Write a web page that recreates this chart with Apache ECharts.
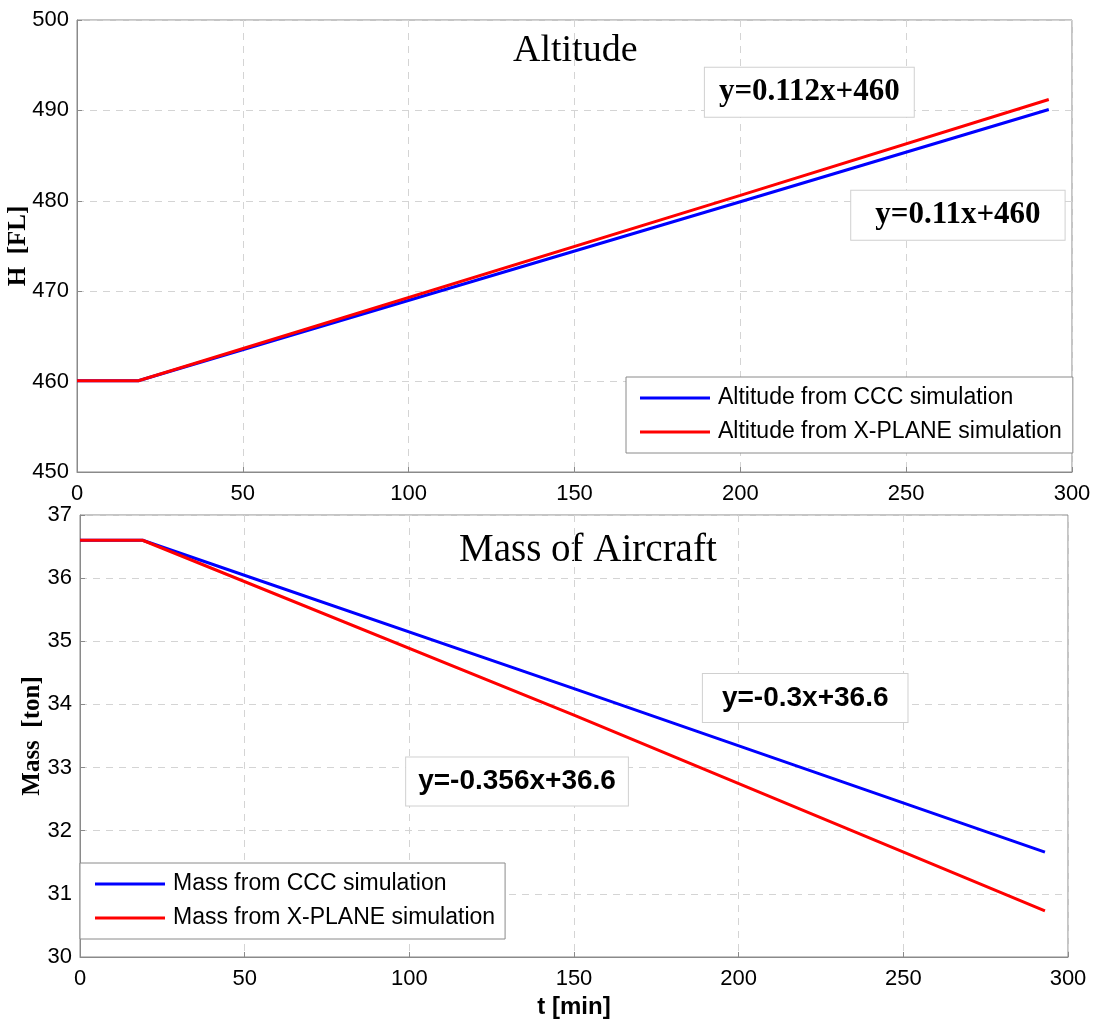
<!DOCTYPE html>
<html>
<head>
<meta charset="utf-8">
<script src="https://cdn.jsdelivr.net/npm/echarts@6/dist/echarts.min.js"></script>
<style>
  html, body { margin: 0; padding: 0; background: #fff; }
  #chart { width: 1097px; height: 1021px; }
</style>
</head>
<body>
<div id="chart"></div>
<script>
// Flight time [min]
const altitudeTime = [0, 18.5, 200, 293];
const massTime = [0, 19, 150, 293];

// Altitude [FL]
const altitudeCCC = [460.1, 460.1, 479.9, 490.1];
const altitudeXPlane = [460.1, 460.1, 480.6, 491.2];

// Aircraft mass [ton]
const massCCC = [36.6, 36.6, 34.25, 31.66];
const massXPlane = [36.6, 36.6, 33.83, 30.73];

// Axis ticks
const timeTicks = [0, 50, 100, 150, 200, 250, 300];
const altitudeTicks = [450, 460, 470, 480, 490, 500];
const massTicks = [30, 31, 32, 33, 34, 35, 36, 37];

// Series names and fitted-line equations
const altitudeNames = ['Altitude from CCC simulation', 'Altitude from X-PLANE simulation'];
const massNames = ['Mass from CCC simulation', 'Mass from X-PLANE simulation'];
const altitudeFits = ['y=0.112x+460', 'y=0.11x+460'];
const massFits = ['y=-0.3x+36.6', 'y=-0.356x+36.6'];

const SANS = 'Liberation Sans, Arial, sans-serif';
const SERIF = 'Liberation Serif, Times New Roman, serif';
const BLUE = '#0000ff';
const RED = '#ff0000';
const FRAME = '#8a8a8a';
const GRIDLINE = { color: '#d4d4d4', type: [7, 6], width: 1 };

// where each equation box sits, in axis units, plus its padding
const altitudeFitAnchors = [[220.8, 492.0, [9, 14]], [265.6, 478.4, [9, 24]]];
const massFitAnchors = [[220.2, 34.1, [10, 19]], [132.7, 32.78, [10, 12]]];

const pair = (xs, ys) => xs.map((x, i) => [x, ys[i]]);
const first = a => a[0];
const last = a => a[a.length - 1];

function xAxisFor(gridIndex, withName) {
  return {
    type: 'value', gridIndex,
    min: first(timeTicks), max: last(timeTicks), interval: timeTicks[1] - timeTicks[0],
    name: withName ? 't [min]' : '',
    nameLocation: 'middle', nameGap: 38, nameMoveOverlap: false,
    nameTextStyle: { fontFamily: SANS, fontWeight: 'bold', fontSize: 24, color: '#000' },
    axisLine: { show: true, onZero: false, lineStyle: { color: FRAME, width: 1 } },
    axisTick: { show: true, inside: true, length: 5, lineStyle: { color: FRAME } },
    axisLabel: { color: '#000', fontFamily: SANS, fontSize: 22, margin: 11 },
    splitLine: { show: true, lineStyle: GRIDLINE }
  };
}

function yAxisFor(gridIndex, ticks, name, gap) {
  return {
    type: 'value', gridIndex,
    min: first(ticks), max: last(ticks), interval: ticks[1] - ticks[0],
    name, nameLocation: 'middle', nameGap: gap, nameRotate: 90, nameMoveOverlap: false,
    nameTextStyle: { fontFamily: SERIF, fontWeight: 'bold', fontSize: 25, color: '#000' },
    axisLine: { show: true, lineStyle: { color: FRAME, width: 1 } },
    axisTick: { show: true, inside: true, length: 5, lineStyle: { color: FRAME } },
    axisLabel: { color: '#000', fontFamily: SANS, fontSize: 22, margin: 8 },
    splitLine: { show: true, lineStyle: GRIDLINE }
  };
}

function lineSeries(name, idx, xs, ys, color) {
  return {
    type: 'line', name, xAxisIndex: idx, yAxisIndex: idx,
    data: pair(xs, ys), symbol: 'none', showSymbol: false, animation: false,
    lineStyle: { color, width: 3 }, itemStyle: { color }
  };
}

function fitSeries(idx, texts, anchors, fontFamily, fontSize) {
  return {
    type: 'scatter', xAxisIndex: idx, yAxisIndex: idx,
    symbolSize: 0, silent: true, animation: false, z: 5,
    itemStyle: { opacity: 1 },
    data: texts.map((t, i) => ({
      value: [anchors[i][0], anchors[i][1]],
      label: { padding: anchors[i][2] },
      fitText: t
    })),
    label: {
      show: true, position: 'inside',
      formatter: p => p.data.fitText,
      fontFamily, fontSize, fontWeight: 'bold', color: '#000',
      textBorderWidth: 0, textBorderColor: 'transparent',
      backgroundColor: '#fff', borderColor: '#d0d0d0', borderWidth: 1
    }
  };
}

function legendFor(names, left, top, padding) {
  return {
    data: names, orient: 'vertical', left, top,
    icon: 'rect', itemWidth: 70, itemHeight: 3,
    backgroundColor: '#fff', borderColor: '#8a8a8a', borderWidth: 1,
    padding, itemGap: 10, selectedMode: false,
    textStyle: { fontFamily: SANS, fontSize: 23, color: '#000', lineHeight: 24, padding: [0, 0, 0, 3] }
  };
}

const chart = echarts.init(document.getElementById('chart'), null, { renderer: 'canvas' });

chart.setOption({
  backgroundColor: '#fff',
  animation: false,
  grid: [
    { left: 77, top: 20, width: 995, height: 452, show: true, borderColor: FRAME, borderWidth: 1,
      backgroundColor: '#fff', outerBoundsMode: 'none' },
    { left: 80, top: 515, width: 988, height: 442, show: true, borderColor: FRAME, borderWidth: 1,
      backgroundColor: '#fff', outerBoundsMode: 'none' }
  ],
  xAxis: [xAxisFor(0, false), xAxisFor(1, true)],
  yAxis: [
    yAxisFor(0, altitudeTicks, 'H  [FL]', 46),
    yAxisFor(1, massTicks, 'Mass  [ton]', 35)
  ],
  legend: [
    legendFor(altitudeNames, 626, 377, [9, 11, 9, 14]),
    legendFor(massNames, 80, 863, [9, 10, 9, 15])
  ],
  graphic: [
    { type: 'text', left: 513, top: 32, style: { text: 'Altitude', fontFamily: SERIF, fontSize: 38, fill: '#000' } },
    { type: 'text', left: 459, top: 531, style: { text: 'Mass of Aircraft', fontFamily: SERIF, fontSize: 39, fill: '#000' } }
  ],
  series: [
    lineSeries(altitudeNames[0], 0, altitudeTime, altitudeCCC, BLUE),
    lineSeries(altitudeNames[1], 0, altitudeTime, altitudeXPlane, RED),
    lineSeries(massNames[0], 1, massTime, massCCC, BLUE),
    lineSeries(massNames[1], 1, massTime, massXPlane, RED),
    fitSeries(0, altitudeFits, altitudeFitAnchors, SERIF, 31),
    fitSeries(1, massFits, massFitAnchors, SANS, 28)
  ]
});
</script>
</body>
</html>
